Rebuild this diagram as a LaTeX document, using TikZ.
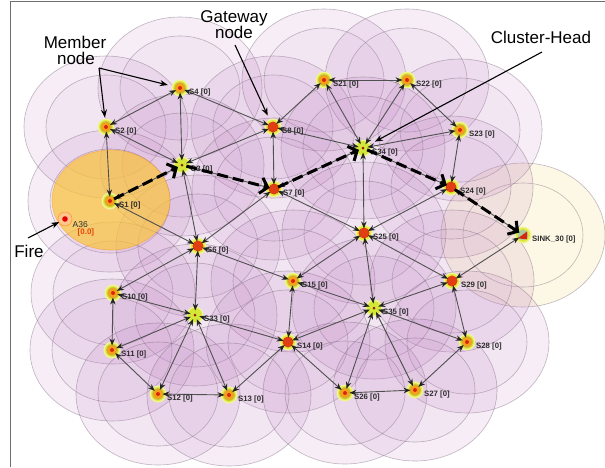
\documentclass[tikz,border=0pt]{standalone}
\usepackage{fontspec}
\setmainfont{Liberation Sans}
\usetikzlibrary{arrows.meta}
\definecolor{rangefill}{RGB}{188,124,192}
\definecolor{rangeline}{RGB}{120,100,120}
\definecolor{linkc}{RGB}{80,80,80}
\definecolor{tipc}{RGB}{35,35,35}
\definecolor{ylw}{RGB}{228,234,60}
\definecolor{ylwpale}{RGB}{240,244,150}
\definecolor{ringc}{RGB}{190,190,70}
\definecolor{org}{RGB}{246,160,26}
\definecolor{redc}{RGB}{214,40,16}
\definecolor{gwred}{RGB}{226,62,20}
\definecolor{chy}{RGB}{212,230,56}
\definecolor{firec}{RGB}{250,196,62}
\definecolor{sinkc}{RGB}{253,248,230}
\definecolor{labc}{RGB}{45,45,45}
\definecolor{firetxt}{RGB}{232,70,10}
\definecolor{framec}{RGB}{110,110,110}
\begin{document}
\begin{tikzpicture}[x=1pt,y=-1pt,
  sn/.style={circle,minimum size=9pt,inner sep=0pt,outer sep=0pt},
  rngout/.style={fill=rangefill,fill opacity=0.135,draw=rangeline,draw opacity=0.45,line width=0.6pt},
  rngin/.style={fill=rangefill,fill opacity=0.06,draw=rangeline,draw opacity=0.45,line width=0.6pt},
  sinkrng/.style={fill=sinkc,draw=rangeline,draw opacity=0.45,line width=0.6pt},
  link/.style={draw=linkc,line width=0.9pt,{Stealth[length=7pt,width=5.4pt,color=tipc]}-{Stealth[length=7pt,width=5.4pt,color=tipc]}},
  flow/.style={draw=black,line width=3pt,dash pattern=on 11pt off 5pt,-{Straight Barb[length=7pt,width=16pt]}},
  callout/.style={draw=black,line width=1.1pt,-{Stealth[length=8pt,width=6pt]}},
  lab/.style={anchor=west,inner sep=0pt,text=labc,font=\fontsize{7.8}{9}\selectfont\bfseries},
  big/.style={font=\fontsize{17}{19}\selectfont,inner sep=0pt,anchor=base}
]
\useasboundingbox (0,0) rectangle (605,467);
\fill[white] (0,0) rectangle (605,467);

% ---- sensor nodes (anchors)
\node[sn] (S4) at (180,88) {};
\node[sn] (S2) at (106,127) {};
\node[sn] (S8) at (273,127) {};
\node[sn] (S21) at (324,80) {};
\node[sn] (S22) at (407,80) {};
\node[sn] (S23) at (460,130) {};
\node[sn] (S34) at (363,148) {};
\node[sn] (S3) at (182,165) {};
\node[sn] (S7) at (274,189) {};
\node[sn] (S1) at (110,201) {};
\node[sn] (A36) at (65,219) {};
\node[sn] (S6) at (198,246) {};
\node[sn] (S10) at (113,293) {};
\node[sn] (S24) at (451,187) {};
\node[sn] (SINK) at (523,235) {};
\node[sn] (S25) at (364,233) {};
\node[sn] (S29) at (452,281) {};
\node[sn] (S15) at (293,281) {};
\node[sn] (S35) at (374,308) {};
\node[sn] (S33) at (195,315) {};
\node[sn] (S14) at (288,342) {};
\node[sn] (S11) at (112,350) {};
\node[sn] (S12) at (158,394) {};
\node[sn] (S13) at (229,395) {};
\node[sn] (S28) at (467,342) {};
\node[sn] (S26) at (345,393) {};
\node[sn] (S27) at (415,390) {};

% ---- ranges
\begin{scope}
\clip (10,2) rectangle (605,467);
\path[sinkrng] (SINK) ellipse [x radius=82pt, y radius=72pt];
\path[draw=rangeline,draw opacity=0.45,line width=0.6pt] (SINK) ellipse [x radius=60pt, y radius=52pt];
\foreach \n in {S4,S2,S8,S21,S22,S23,S34,S3,S7,S1,S6,S10,S24,S25,S29,S15,S35,S33,S14,S11,S12,S13,S28,S26,S27}{
  \path[rngout] (\n) ellipse [x radius=82pt, y radius=71pt];
  \path[rngin] (\n) ellipse [x radius=60pt, y radius=52pt];
}
\path[fill=firec,fill opacity=0.72,draw=orange,draw opacity=0.4,line width=0.6pt] (111,200) ellipse [x radius=59pt, y radius=50pt];
\end{scope}

% ---- frame
\draw[framec,line width=1.2pt] (10.5,467) -- (10.5,1.6) -- (605,1.6);

% ---- node glyphs
\foreach \n in {S4,S2,S21,S22,S23,S1,S10,S15,S11,S12,S13,S28,S26,S27}{
  \fill[ylwpale] (\n) circle (8.5pt);
  \fill[ylw] (\n) circle (7pt);
  \fill[ringc] (\n) circle (5.8pt);
  \fill[org] (\n) circle (5pt);
  \fill[redc] (\n) circle (2pt);
}
\foreach \n in {S8,S7,S6,S24,S25,S29,S14}{
  \fill[ylwpale] (\n) circle (8.5pt);
  \fill[ylw] (\n) circle (7pt);
  \fill[gwred] (\n) circle (5.5pt);
}
\foreach \n in {S3,S34,S35,S33}{
  \fill[ylwpale] (\n) circle (8.5pt);
  \fill[chy] (\n) circle (7pt);
  \fill[redc!70!black] (\n) circle (1.5pt);
}
\fill[ylwpale] (SINK) circle (8.5pt);
\fill[ylw] (SINK) circle (7pt);
\fill[ringc!60!teal!60] (SINK) circle (5.5pt);
\fill[redc] ([shift={(4,-3.5)}]SINK.center) -- ([shift={(4,4.3)}]SINK.center) -- ([shift={(-5,3.3)}]SINK.center) -- cycle;
\fill[orange!45,draw=orange!80,line width=0.6pt] (A36) circle (7pt);
\fill[red!90!black] (A36) circle (2.8pt);

% ---- links
\foreach \a/\b in {S4/S2,S4/S3,S4/S8,S2/S3,S2/S1,S1/S3,S1/S6,S3/S6,S3/S8,S3/S7,S8/S7,S8/S21,S8/S34,S7/S34,S7/S6,S7/S25,
  S21/S22,S21/S34,S22/S34,S22/S23,S23/S34,S23/S24,S34/S24,S34/S25,S24/S25,S24/SINK,S25/S29,S29/SINK,S25/S15,S25/S35,
  S6/S15,S6/S33,S6/S10,S15/S14,S15/S35,S35/S29,S35/S14,S35/S28,S35/S26,S35/S27,S29/S28,S28/S27,S27/S26,S14/S26,
  S14/S13,S14/S33,S33/S10,S33/S11,S33/S12,S33/S13,S10/S11,S11/S12,S12/S13}{
  \draw[link] (\a) -- (\b);
}

% ---- labels
\foreach \n in {S4,S2,S8,S21,S22,S23,S34,S3,S7,S1,S6,S10,S24,S25,S29,S15,S35,S33,S14,S11,S12,S13,S28,S26,S27}{
  \node[lab] (l\n) at ([shift={(9,4.5)}]\n.center) {\n\ [0]};
}
\node[lab] (lSINK) at ([shift={(9,4.5)}]SINK.center) {SINK\_30 [0]};
\node[anchor=west,inner sep=0pt,text=labc,font=\fontsize{8.5}{9}\selectfont] (lA36) at (72.5,224.5) {A36};
\node[anchor=west,inner sep=0pt,text=firetxt,font=\fontsize{8}{9}\selectfont\bfseries] (vA36) at (77.5,232.5) {[0.0]};

% ---- routing path
\draw[flow] (S1) -- (S3);
\draw[flow] (S3) -- (S7);
\draw[flow] (S7) -- (S34);
\draw[flow] (S34) -- (S24);
\draw[flow] (S24) -- (SINK);

% ---- callouts
\node[big] (tMember) at (75,48) {Member};
\node[big] (tMnode) at (76,64) {node};
\node[big] (tGateway) at (234,22) {Gateway};
\node[big] (tGnode) at (234,38) {node};
\node[big] (tCH) at (541,43) {Cluster-Head};
\node[big] (tFire) at (29,257) {Fire};
\coordinate (mtail) at (99,68);
\coordinate (gtail) at (235,45);
\coordinate (ctail) at (542,52);
\coordinate (ftail) at (28,238);
\draw[callout,shorten >=5pt] (mtail) -- (S2);
\draw[callout,shorten >=8pt] (mtail) -- (S4);
\draw[callout,shorten >=8pt] (gtail) -- (S8);
\draw[callout,shorten >=9pt] (ctail) -- (S34);
\draw[callout,shorten >=2pt] (ftail) -- (A36);
\end{tikzpicture}
\end{document}
